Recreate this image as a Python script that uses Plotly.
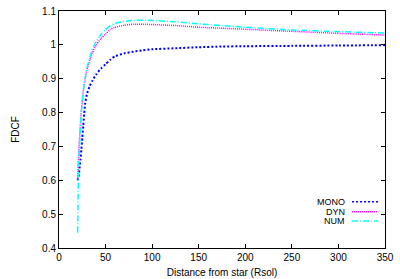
import plotly.graph_objects as go

x = [20, 20.5, 21, 21.5, 22, 23, 24, 25, 26, 27, 28, 30, 33, 36, 40, 45, 50, 55, 60, 70, 80, 90, 100, 125, 150, 175, 200, 250, 300, 350]
mono = [0.60, 0.605, 0.61, 0.62, 0.635, 0.66, 0.69, 0.725, 0.76, 0.795, 0.825, 0.855, 0.878, 0.895, 0.913, 0.930, 0.943, 0.956, 0.966, 0.975, 0.980, 0.984, 0.987, 0.990, 0.993, 0.995, 0.996, 0.997, 0.998, 0.999]
dyn = [0.60, 0.645, 0.675, 0.70, 0.72, 0.765, 0.805, 0.835, 0.86, 0.88, 0.898, 0.925, 0.955, 0.978, 1.000, 1.018, 1.032, 1.045, 1.052, 1.058, 1.061, 1.061, 1.060, 1.057, 1.052, 1.049, 1.046, 1.040, 1.034, 1.029]
num = [0.445, 0.56, 0.63, 0.67, 0.70, 0.755, 0.80, 0.835, 0.862, 0.884, 0.902, 0.932, 0.963, 0.987, 1.010, 1.030, 1.045, 1.056, 1.063, 1.069, 1.072, 1.073, 1.072, 1.068, 1.062, 1.057, 1.052, 1.044, 1.039, 1.035]

series = [("MONO", mono, "#0000ff", "2px,2px", 2), ("DYN", dyn, "#ff00ff", "1px,1px", 1.5), ("NUM", num, "#00ffff", "6px,2px,1px,2px", 1.5)]

fig = go.Figure()
for name, ys, col, dash, w in series:
    fig.add_trace(go.Scatter(x=x, y=ys, mode="lines", name=name,
                             line=dict(color=col, dash=dash, width=w, shape="spline", smoothing=0.5),
                             showlegend=False))

font = dict(family="Liberation Sans, Arial, sans-serif", size=10, color="#000")
ax = dict(showgrid=False, zeroline=False, showline=True, linecolor="#000", linewidth=1, automargin=False,
          ticks="inside", ticklen=4, tickcolor="#000", mirror="allticks", tickfont=font)
fig.update_layout(
    width=400, height=279, margin=dict(l=59, r=15, t=11, b=31),
    paper_bgcolor="white", plot_bgcolor="white", font=font,
    xaxis=dict(range=[0, 350], dtick=50, title=dict(text="Distance from star (Rsol)", font=font, standoff=6), **ax),
    yaxis=dict(range=[0.4, 1.1], dtick=0.1, tickformat="~g", title=dict(text="FDCF", font=font, standoff=20), **ax),
)

lfont = dict(family="Liberation Sans, Arial, sans-serif", size=9, color="#000")
ly = [0.195, 0.153, 0.114]
for (name, ys, col, dash, w), yy in zip(series, ly):
    fig.add_annotation(xref="paper", yref="paper", x=0.879, y=yy, text=name, showarrow=False,
                       xanchor="right", yanchor="middle", font=lfont, borderpad=0)
    fig.add_shape(type="line", xref="paper", yref="paper", x0=0.899, x1=0.979, y0=yy, y1=yy,
                  line=dict(color=col, dash=dash, width=1.5))

fig.write_html("out.html", config={"displayModeBar": False},
               post_script="document.body.style.margin='0';document.body.style.overflow='hidden';")
